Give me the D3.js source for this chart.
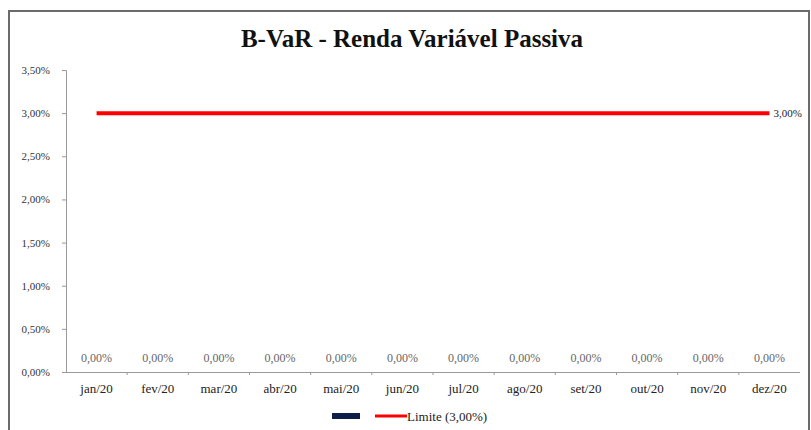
<!DOCTYPE html>
<html>
<head>
<meta charset="utf-8">
<script src="https://cdn.jsdelivr.net/npm/d3@7"></script>
<style>
  body { margin: 0; background: #fff; }
  text { font-family: "Liberation Serif", "Times New Roman", serif; }
</style>
</head>
<body>
<svg width="811" height="430"></svg>
<script>
// chart data
const months = ['jan/20', 'fev/20', 'mar/20', 'abr/20', 'mai/20', 'jun/20',
                'jul/20', 'ago/20', 'set/20', 'out/20', 'nov/20', 'dez/20'];
const bvar = [0, 0, 0, 0, 0, 0, 0, 0, 0, 0, 0, 0];
const limite = [0.03, 0.03, 0.03, 0.03, 0.03, 0.03, 0.03, 0.03, 0.03, 0.03, 0.03, 0.03];
const yTicks = [0, 0.005, 0.01, 0.015, 0.02, 0.025, 0.03, 0.035];
const limiteLabel = 'Limite (3,00%)';

const fmt = v => (v * 100).toFixed(2).replace('.', ',') + '%';

const svg = d3.select('svg');

// outer frame
svg.append('rect')
    .attr('x', 9).attr('y', 11)
    .attr('width', 800).attr('height', 430)
    .attr('fill', 'none')
    .attr('stroke', '#6b6b6b')
    .attr('stroke-width', 2);

const margin = { top: 70, left: 66, right: 11, bottom: 58 };
const width = 811 - margin.left - margin.right;
const height = 430 - margin.top - margin.bottom;

const chart = svg.append('g')
    .attr('transform', `translate(${margin.left},${margin.top})`);

const xScale = d3.scaleBand().domain(months).range([0, width]);
const yScale = d3.scaleLinear().domain([0, 0.035]).range([height, 0]);

// title
svg.append('text')
    .attr('x', 412)
    .attr('y', 47)
    .attr('text-anchor', 'middle')
    .style('font-weight', 'bold')
    .style('font-size', '25px')
    .style('fill', '#111')
    .text('B-VaR - Renda Variável Passiva');

// y axis
const yAxis = chart.append('g')
    .call(d3.axisLeft(yScale).tickValues(yTicks).tickFormat(fmt).tickSize(4).tickPadding(12));
yAxis.select('.domain').attr('stroke', '#999').attr('d', `M-4,0.5H0.5V${height}`);
yAxis.selectAll('.tick line').attr('stroke', '#999');
yAxis.selectAll('.tick text')
    .style('font-size', '11px')
    .style('fill', '#333');

// x axis
const xAxis = chart.append('g')
    .attr('transform', `translate(0,${height})`)
    .call(d3.axisBottom(xScale).tickSize(0).tickPadding(12));
xAxis.select('.domain').attr('stroke', '#999').attr('d', `M0,0.5H${width}`);
xAxis.selectAll('.tick text')
    .style('font-size', '13px')
    .style('fill', '#222');
// band boundary ticks
chart.append('g')
    .selectAll('line')
    .data(months.slice(1))
    .enter()
    .append('line')
    .attr('x1', d => xScale(d))
    .attr('x2', d => xScale(d))
    .attr('y1', height)
    .attr('y2', height + 3)
    .attr('stroke', '#999');

// bars (all zero)
chart.append('g')
    .selectAll('rect')
    .data(bvar)
    .enter()
    .append('rect')
    .attr('x', (d, i) => xScale(months[i]) + xScale.bandwidth() * 0.2)
    .attr('width', xScale.bandwidth() * 0.6)
    .attr('y', d => yScale(d))
    .attr('height', d => height - yScale(d))
    .attr('fill', '#0b1f4a');

// bar labels
chart.append('g')
    .selectAll('text')
    .data(bvar)
    .enter()
    .append('text')
    .attr('x', (d, i) => xScale(months[i]) + xScale.bandwidth() / 2)
    .attr('y', d => yScale(d) - 10)
    .attr('text-anchor', 'middle')
    .style('font-size', '12px')
    .style('fill', '#666')
    .text(d => fmt(d));

// limit line
const line = d3.line()
    .x((d, i) => xScale(months[i]) + xScale.bandwidth() / 2)
    .y(d => yScale(d));

chart.append('path')
    .datum(limite)
    .attr('d', line)
    .attr('fill', 'none')
    .attr('stroke', '#ff0000')
    .attr('stroke-width', 4);

chart.append('text')
    .attr('x', xScale(months[11]) + xScale.bandwidth() / 2 + 4)
    .attr('y', yScale(limite[11]))
    .attr('dy', '0.35em')
    .style('font-size', '11px')
    .style('fill', '#222')
    .text(fmt(limite[11]));

// legend
const legend = svg.append('g').attr('transform', 'translate(332,416)');
legend.append('rect')
    .attr('x', 0).attr('y', -3)
    .attr('width', 28).attr('height', 6)
    .attr('fill', '#0b1f4a');
legend.append('line')
    .attr('x1', 43).attr('x2', 75)
    .attr('y1', 0).attr('y2', 0)
    .attr('stroke', '#ff0000')
    .attr('stroke-width', 3);
legend.append('text')
    .attr('x', 75)
    .attr('y', 0)
    .attr('dy', '0.35em')
    .style('font-size', '13px')
    .style('fill', '#222')
    .text(limiteLabel);
</script>
</body>
</html>
